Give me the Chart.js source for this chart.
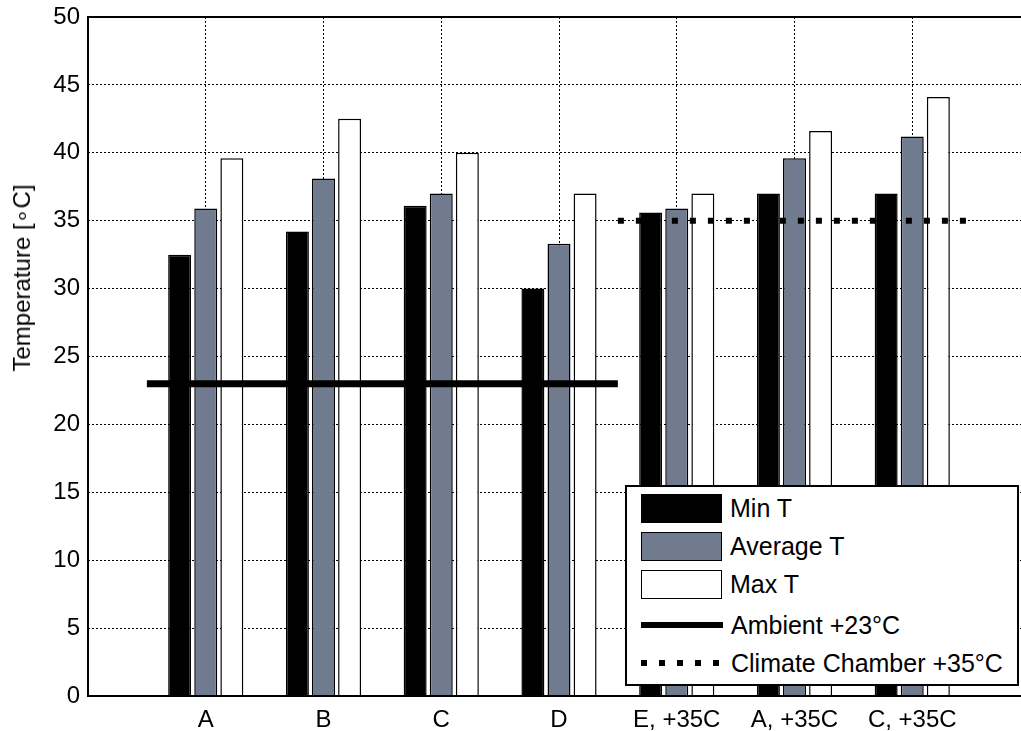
<!DOCTYPE html>
<html>
<head>
<meta charset="utf-8">
<script src="https://cdn.jsdelivr.net/npm/chart.js@4"></script>
<style>
  body { margin: 0; background: #fff; overflow: hidden; }
  #wrap { position: relative; width: 1021px; height: 731px; overflow: hidden; }
  #legend {
    position: absolute; left: 625px; top: 485px; width: 390px; height: 197px;
    background: #fff; border: 2px solid #000;
    font-family: "Liberation Sans", Arial, sans-serif; font-size: 25px; color: #000;
  }
  .item { position: absolute; left: 14px; height: 30px; display: flex; align-items: center; white-space: nowrap; }
  .sw { width: 81px; height: 29px; box-sizing: border-box; border: 1.5px solid #000; margin-right: 8px; }
  .ln { width: 82px; height: 6px; margin-right: 8px; }
  #ytitle {
    position: absolute; left: 22px; top: 278px;
    transform: translate(-50%, -50%) rotate(-90deg);
    white-space: nowrap;
    font-family: "Liberation Sans", Arial, sans-serif; font-size: 24px; color: #000;
  }
</style>
</head>
<body>
<div id="wrap">
  <!-- canvas is wider than the picture: the plot frame runs past the right edge -->
  <canvas id="chart" width="1031" height="731"></canvas>
  <div id="ytitle">Temperature [∘C]</div>
  <div id="legend">
    <div class="item" style="top:6px"><div class="sw" style="background:#000"></div>Min T</div>
    <div class="item" style="top:44px"><div class="sw" style="background:#707b8f"></div>Average T</div>
    <div class="item" style="top:82px"><div class="sw" style="background:#fff"></div>Max T</div>
    <div class="item" style="top:123px"><div class="ln" style="background:#000"></div>Ambient +23°C</div>
    <div class="item" style="top:161px"><div class="ln" style="background:repeating-linear-gradient(90deg,#000 0 6px,transparent 6px 18px)"></div>Climate Chamber +35°C</div>
  </div>
</div>
<script>
// Categories and values (°C)
const categories = ['A', 'B', 'C', 'D', 'E, +35C', 'A, +35C', 'C, +35C'];
const minT = [32.5, 34.2, 36.1, 30.0, 35.6, 37.0, 37.0];
const avgT = [35.9, 38.1, 37.0, 33.3, 35.9, 39.6, 41.2];
const maxT = [39.6, 42.5, 40.0, 37.0, 37.0, 41.6, 44.1];

// Reference lines: [xStart, xEnd] in category units, and level
const ambientSpan = [0.5, 4.5];
const ambientLevel = 23;
const chamberSpan = [4.5, 7.5];
const chamberLevel = 35;

const yTicks = [0, 5, 10, 15, 20, 25, 30, 35, 40, 45, 50];

const toPoints = arr => arr.map((v, i) => ({ x: i + 1, y: v }));

const barStyle = {
  borderColor: '#000',
  borderWidth: 1.5,
  categoryPercentage: 0.665,
  barPercentage: 0.88,
  order: 2
};

// Border around the plot area
const frame = {
  id: 'frame',
  afterDatasetsDraw(chart) {
    const a = chart.chartArea;
    const ctx = chart.ctx;
    ctx.save();
    ctx.strokeStyle = '#000';
    ctx.lineWidth = 2;
    ctx.strokeRect(a.left, a.top, a.right - a.left, a.bottom - a.top);
    ctx.restore();
  }
};

const tickFont = { family: 'Liberation Sans, Arial', size: 24 };

new Chart(document.getElementById('chart'), {
  type: 'bar',
  data: {
    datasets: [
      { ...barStyle, label: 'Min T', data: toPoints(minT), backgroundColor: '#000' },
      { ...barStyle, label: 'Average T', data: toPoints(avgT), backgroundColor: '#707b8f' },
      { ...barStyle, label: 'Max T', data: toPoints(maxT), backgroundColor: '#fff' },
      {
        type: 'line', label: 'Ambient +23°C', order: 0,
        data: ambientSpan.map(x => ({ x, y: ambientLevel })),
        borderColor: '#000', borderWidth: 7, pointRadius: 0, borderCapStyle: 'butt'
      },
      {
        type: 'line', label: 'Climate Chamber +35°C', order: 0,
        data: chamberSpan.map(x => ({ x, y: chamberLevel })),
        borderColor: '#000', borderWidth: 6, borderDash: [6, 12], pointRadius: 0, borderCapStyle: 'butt'
      }
    ]
  },
  options: {
    responsive: false,
    animation: false,
    layout: { padding: { top: 17, right: 1, left: 0, bottom: 0 } },
    plugins: { legend: { display: false }, tooltip: { enabled: false } },
    scales: {
      x: {
        type: 'linear',
        offset: false,
        min: 0, max: 8,
        afterBuildTicks: s => { s.ticks = [0, 1, 2, 3, 4, 5, 6, 7, 8].map(v => ({ value: v })); },
        afterFit: s => { s.height = 35; s.paddingLeft = 0; s.paddingRight = 0; },
        ticks: {
          callback: v => categories[v - 1] || '',
          color: '#000', padding: 10, maxRotation: 0, autoSkip: false,
          font: tickFont
        },
        grid: { color: '#000', lineWidth: 1, drawTicks: false, offset: false },
        border: { display: false, dash: [2, 2] }
      },
      y: {
        min: 0, max: 50,
        afterBuildTicks: s => { s.ticks = yTicks.map(v => ({ value: v })); },
        afterFit: s => { s.width = 88; s.paddingTop = 0; s.paddingBottom = 0; },
        ticks: {
          color: '#000', padding: 8,
          font: tickFont
        },
        grid: { color: '#000', lineWidth: 1, drawTicks: false },
        border: { display: false, dash: [2, 2] }
      }
    }
  },
  plugins: [frame]
});
</script>
</body>
</html>
